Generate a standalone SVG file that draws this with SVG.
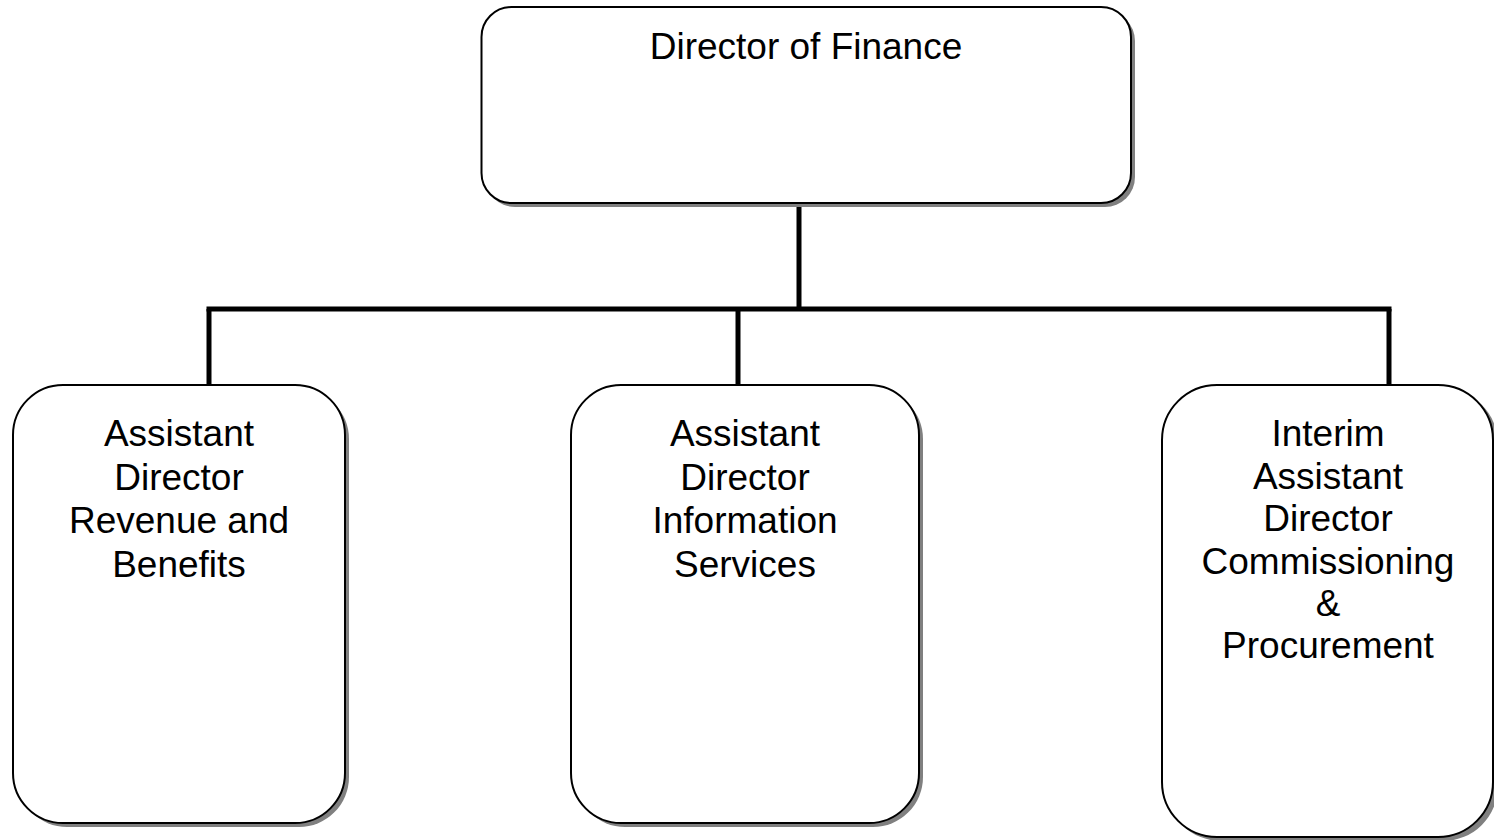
<svg xmlns="http://www.w3.org/2000/svg" width="1494" height="840" viewBox="0 0 1494 840">
  <style>
    .shadow { fill: #808080; stroke: none; }
    .box { fill: #ffffff; stroke: #000000; stroke-width: 2; }
    .label { font-family: "Liberation Sans", Arial, sans-serif; font-size: 37px; fill: #000000; text-anchor: middle; }
    .link { stroke: #000000; stroke-width: 5; fill: none; stroke-linecap: butt; }
  </style>
  <rect width="1494" height="840" fill="#ffffff"/>

  <g id="connectors">
    <line class="link" x1="799" y1="203" x2="799" y2="309"/>
    <line class="link" x1="206.5" y1="309" x2="1391.5" y2="309"/>
    <line class="link" x1="209" y1="309" x2="209" y2="385"/>
    <line class="link" x1="738" y1="309" x2="738" y2="385"/>
    <line class="link" x1="1389" y1="309" x2="1389" y2="385"/>
  </g>

  <g id="director-of-finance">
    <rect class="shadow" x="485" y="11" width="650" height="196" rx="30" ry="30"/>
    <rect class="box" x="481.5" y="7" width="649.5" height="196" rx="30" ry="30"/>
    <text class="label" x="806" y="59">Director of Finance</text>
  </g>

  <g id="ad-revenue-benefits">
    <rect class="shadow" x="17" y="389" width="332" height="438" rx="50" ry="50"/>
    <rect class="box" x="13" y="385" width="332" height="438" rx="50" ry="50"/>
    <text class="label" x="179" y="446">Assistant</text>
    <text class="label" x="179" y="490">Director</text>
    <text class="label" x="179" y="533">Revenue and</text>
    <text class="label" x="179" y="577">Benefits</text>
  </g>

  <g id="ad-information-services">
    <rect class="shadow" x="575" y="389" width="348" height="438" rx="50" ry="50"/>
    <rect class="box" x="571" y="385" width="348" height="438" rx="50" ry="50"/>
    <text class="label" x="745" y="446">Assistant</text>
    <text class="label" x="745" y="490">Director</text>
    <text class="label" x="745" y="533">Information</text>
    <text class="label" x="745" y="577">Services</text>
  </g>

  <g id="interim-ad-commissioning">
    <rect class="shadow" x="1166" y="389" width="332" height="452" rx="55" ry="55"/>
    <rect class="box" x="1162" y="385" width="331" height="452" rx="55" ry="55"/>
    <text class="label" x="1328" y="446">Interim</text>
    <text class="label" x="1328" y="489">Assistant</text>
    <text class="label" x="1328" y="531">Director</text>
    <text class="label" x="1328" y="574">Commissioning</text>
    <text class="label" x="1328" y="616">&amp;</text>
    <text class="label" x="1328" y="658">Procurement</text>
  </g>
</svg>
